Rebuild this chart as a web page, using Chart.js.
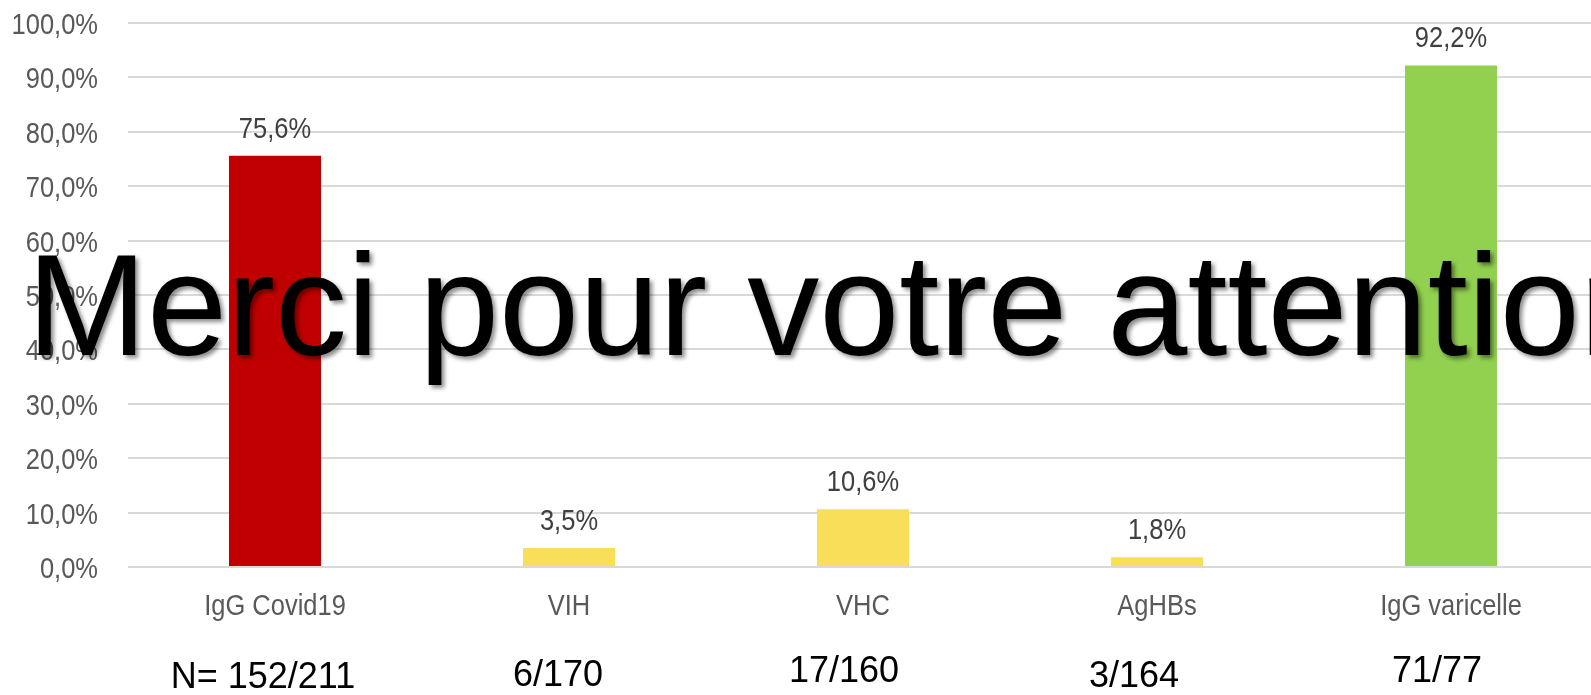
<!DOCTYPE html>
<html lang="fr">
<head>
<meta charset="utf-8">
<title>Sérologies</title>
<script src="https://cdn.jsdelivr.net/npm/chart.js@4.4.1/dist/chart.umd.min.js"></script>
<style>
  html, body { margin: 0; padding: 0; background: #fff; overflow: hidden; }
  #wrap { width: 1598px; height: 695px; }
</style>
</head>
<body>
<div id="wrap"><canvas id="graphique" width="1598" height="695"></canvas></div>
<script>
const categories = ["IgG Covid19", "VIH", "VHC", "AgHBs", "IgG varicelle"];
const pourcentages = [75.6, 3.5, 10.6, 1.8, 92.2];
const effectifs = ["N= 152/211", "6/170", "17/160", "3/164", "71/77"];
const couleurs = ["#C00000", "#F9DE59", "#F9DE59", "#F9DE59", "#92D050"];
const message = "Merci pour votre attention";

const police = "'Liberation Sans', Arial, sans-serif";
const ETROIT = 0.85; // le graphique d'origine est tassé horizontalement

const formatPct = (v) => v.toFixed(1).replace(".", ",") + "%";

// texte tassé horizontalement (pas de police "narrow" dispo)
function texteEtroit(ctx, txt, x, y, align) {
  ctx.save();
  ctx.translate(x, y);
  ctx.scale(ETROIT, 1);
  ctx.textAlign = align;
  ctx.fillText(txt, 0, 0);
  ctx.restore();
}

// graduations des axes + étiquettes de valeur
const etiquettes = {
  id: "etiquettes",
  afterDatasetsDraw(chart) {
    const ctx = chart.ctx;
    const { x, y } = chart.scales;
    ctx.save();
    ctx.font = "30px " + police;
    ctx.textBaseline = "alphabetic";

    ctx.fillStyle = "#595959";
    y.ticks.forEach((t) => {
      texteEtroit(ctx, formatPct(t.value), 98, y.getPixelForValue(t.value) + 11, "right");
    });
    categories.forEach((c, i) => {
      texteEtroit(ctx, c, x.getPixelForValue(i), y.bottom + 48, "center");
    });

    ctx.fillStyle = "#404040";
    chart.getDatasetMeta(0).data.forEach((bar, i) => {
      texteEtroit(ctx, formatPct(pourcentages[i]), bar.x, bar.y - 18, "center");
    });
    ctx.restore();
  },
};

// effectifs sous les catégories + texte de fin
const surcouche = {
  id: "surcouche",
  afterDraw(chart) {
    const ctx = chart.ctx;
    const x = chart.scales.x;
    const dx = [-12, -11, -19, -23, -14];
    const dy = [0, -2, -6, -1, -6];
    ctx.save();
    ctx.font = "36px " + police;
    ctx.fillStyle = "#000";
    ctx.textAlign = "center";
    ctx.textBaseline = "alphabetic";
    effectifs.forEach((txt, i) => {
      ctx.fillText(txt, x.getPixelForValue(i) + dx[i], chart.height - 7 + dy[i]);
    });

    ctx.font = "144px " + police;
    ctx.textAlign = "left";
    ctx.shadowColor = "rgba(0,0,0,0.45)";
    ctx.shadowOffsetX = 3;
    ctx.shadowOffsetY = 3;
    ctx.shadowBlur = 4;
    ctx.fillText(message, 27, 355);
    ctx.restore();
  },
};

new Chart(document.getElementById("graphique"), {
  type: "bar",
  data: {
    labels: categories,
    datasets: [
      {
        data: pourcentages,
        backgroundColor: couleurs,
        categoryPercentage: 1,
        barPercentage: 0.313,
      },
    ],
  },
  options: {
    responsive: false,
    animation: false,
    layout: { padding: { top: 23, left: 0, right: 0, bottom: 0 } },
    plugins: {
      legend: { display: false },
      tooltip: { enabled: false },
    },
    scales: {
      x: {
        grid: { display: false, drawTicks: false },
        border: { display: false },
        ticks: { display: false },
        afterFit: (scale) => { scale.height = 128; },
      },
      y: {
        min: 0,
        max: 100,
        grid: { color: "#D9D9D9", lineWidth: 2, drawTicks: false },
        border: { display: false },
        ticks: { display: false, stepSize: 10 },
        afterFit: (scale) => { scale.width = 128; },
      },
    },
  },
  plugins: [etiquettes, surcouche],
});
</script>
</body>
</html>
